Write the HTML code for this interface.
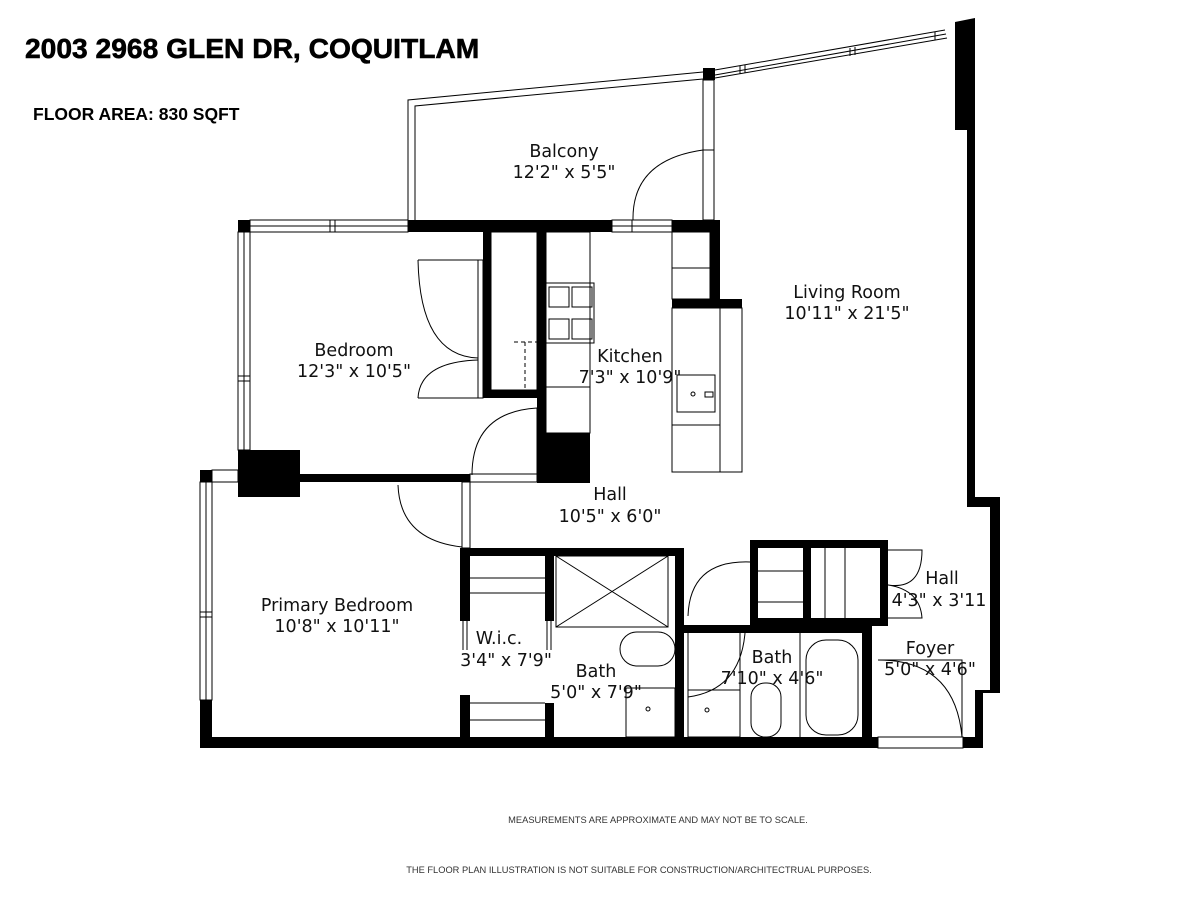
<!DOCTYPE html>
<html><head><meta charset="utf-8"><style>
body{margin:0;background:#fff;width:1200px;height:900px;overflow:hidden}
svg{display:block}
.t{font-family:"DejaVu Sans","Liberation Sans",sans-serif;font-size:17.5px;fill:#111}
.w{fill:#000}
.l{fill:none;stroke:#000;stroke-width:1}
</style></head><body>
<svg width="1200" height="900" viewBox="0 0 1200 900" xmlns="http://www.w3.org/2000/svg">
<text x="25" y="58" font-family="Liberation Sans,sans-serif" font-weight="bold" font-size="28.2" fill="#000" stroke="#000" stroke-width="0.6">2003 2968 GLEN DR, COQUITLAM</text>
<text x="33" y="120" font-family="Liberation Sans,sans-serif" font-weight="bold" font-size="17.5" fill="#000">FLOOR AREA: 830 SQFT</text>
<text x="658" y="823" text-anchor="middle" font-family="Liberation Sans,sans-serif" font-size="9.3" fill="#333">MEASUREMENTS ARE APPROXIMATE AND MAY NOT BE TO SCALE.</text>
<text x="639" y="873" text-anchor="middle" font-family="Liberation Sans,sans-serif" font-size="9.3" fill="#333">THE FLOOR PLAN ILLUSTRATION IS NOT SUITABLE FOR CONSTRUCTION/ARCHITECTRUAL PURPOSES.</text>

<path class="l" d="M408 220 V100 L703 72 M415 220 V106 L703 79"/>
<path class="l" d="M715 70 L945 30 M715 78 L947 38 M715 75 L946 34"/>
<path class="l" d="M740 66 V74 M745 65 V73 M850 48 V56 M855 47 V55 M935 32 V40"/>
<rect class="w" x="703" y="68" width="12" height="12"/>
<rect class="l" x="703" y="80" width="11" height="140"/>
<path class="l" d="M703 150 H714"/>
<path class="w" d="M955 22 L975 18 V130 H967 V497 H1000 V693 H983 V748 H975 V690 H990 V507 H967 V130 H955 Z"/>
<path class="w" d="M967 130 H975 V497 H967Z"/>
<rect class="w" x="238" y="220" width="12" height="12"/>
<rect class="l" x="250" y="220" width="158" height="12"/>
<path class="l" d="M330 220 V232 M335 220 V232 M250 226 H408"/>
<rect class="w" x="408" y="220" width="204" height="12"/>
<rect class="l" x="612" y="220" width="60" height="12"/>
<path class="l" d="M612 226 H672 M632 220 V232"/>
<rect class="w" x="672" y="220" width="48" height="12"/>
<rect class="w" x="710" y="220" width="10" height="88"/>
<rect class="w" x="672" y="299" width="70" height="9"/>
<rect class="l" x="238" y="232" width="12" height="218"/>
<path class="l" d="M244 232 V450 M238 376 H250 M238 381 H250"/>
<rect class="w" x="483" y="232" width="8" height="165"/>
<rect class="w" x="483" y="390" width="57" height="8"/>
<rect class="w" x="537" y="232" width="9" height="250"/>
<rect class="w" x="537" y="433" width="53" height="50"/>
<rect class="l" x="491" y="232" width="46" height="158"/>
<path class="l" d="M514 342 H537 V390 M525 342 V390" stroke-dasharray="4 3"/>
<rect class="l" x="478" y="260" width="5" height="138"/>
<path class="l" d="M418 260 H478 M418 260 Q420 356 478 358 M478 360 Q420 362 418 398 M418 398 H478"/>
<path class="l" d="M472 475 Q472 412 537 408 M537 408 V475"/>
<rect class="w" x="238" y="450" width="62" height="47"/>
<rect class="w" x="300" y="474" width="170" height="8"/>
<rect class="l" x="470" y="474" width="67" height="8"/>
<rect class="w" x="200" y="470" width="12" height="12"/>
<rect class="l" x="212" y="470" width="26" height="12"/>
<rect class="l" x="200" y="482" width="12" height="218"/>
<path class="l" d="M206 482 V700 M200 612 H212 M200 617 H212"/>
<rect class="w" x="200" y="700" width="12" height="48"/>
<rect class="w" x="200" y="737" width="678" height="11"/>
<rect class="w" x="963" y="737" width="20" height="11"/>
<rect class="l" x="878" y="737" width="85" height="11"/>
<rect class="l" x="546" y="232" width="44" height="201"/>
<rect class="l" x="546" y="283" width="48" height="60"/>
<g class="l"><rect x="549" y="287" width="20" height="20"/><rect x="572" y="287" width="20" height="20"/><rect x="549" y="319" width="20" height="20"/><rect x="572" y="319" width="20" height="20"/></g>
<path class="l" d="M546 387 H590"/>
<rect class="l" x="672" y="232" width="38" height="67"/>
<path class="l" d="M672 268 H710"/>
<rect class="l" x="672" y="308" width="70" height="164"/>
<path class="l" d="M720 308 V472 M672 425 H720"/>
<rect class="l" x="677" y="375" width="38" height="37"/>
<circle class="l" cx="693" cy="394" r="2"/>
<rect class="l" x="705" y="392" width="8" height="5"/>
<path class="l" d="M633 220 Q632 160 703 150"/>
<path class="l" d="M398 485 Q400 540 462 547"/>
<rect class="l" x="462" y="482" width="8" height="66"/>
<rect class="w" x="460" y="548" width="224" height="8"/>
<rect class="w" x="460" y="548" width="10" height="73"/>
<rect class="w" x="545" y="548" width="9" height="73"/>
<rect class="w" x="460" y="695" width="10" height="45"/>
<rect class="w" x="545" y="703" width="9" height="35"/>
<path class="l" d="M463 621 V650 M467 621 V650 M547 621 V650 M551 621 V650"/>
<path class="l" d="M470 578 H545 M470 593 H545 M470 703 H545 M470 720 H545"/>
<rect class="l" x="556" y="556" width="112" height="71"/>
<path class="l" d="M556 556 L668 627 M668 556 L556 627"/>
<rect class="w" x="675" y="548" width="9" height="190"/>
<rect class="l" x="620" y="632" width="55" height="34" rx="17"/>
<rect class="l" x="626" y="688" width="49" height="49"/>
<circle class="l" cx="648" cy="709" r="2"/>
<rect class="w" x="684" y="625" width="188" height="8"/>
<rect class="w" x="862" y="625" width="10" height="115"/>
<rect class="l" x="688" y="690" width="52" height="47"/>
<circle class="l" cx="707" cy="710" r="2"/>
<rect class="l" x="751" y="683" width="30" height="54" rx="14"/>
<rect class="l" x="806" y="640" width="52" height="95" rx="20"/>
<path class="l" d="M800 633 V737 M740 633 V737"/>
<path class="l" d="M688 633 V697 Q740 690 745 633"/>
<rect class="w" x="750" y="540" width="138" height="8"/>
<rect class="w" x="750" y="540" width="8" height="86"/>
<rect class="w" x="803" y="540" width="8" height="86"/>
<rect class="w" x="880" y="540" width="8" height="86"/>
<rect class="w" x="750" y="618" width="138" height="8"/>
<path class="l" d="M758 571 H803 M758 602 H803 M845 548 V618 M825 548 V618"/>
<path class="l" d="M688 616 Q690 560 750 562"/>
<path class="l" d="M888 550 H922 Q922 590 888 585 M888 618 H922 Q920 590 888 585"/>
<path class="l" d="M878 660 H962 V737 M878 660 Q955 660 962 737"/>
<text class="t" x="564" y="157" text-anchor="middle">Balcony</text>
<text class="t" x="564" y="178" text-anchor="middle">12'2" x 5'5"</text>
<text class="t" x="847" y="298" text-anchor="middle">Living Room</text>
<text class="t" x="847" y="319" text-anchor="middle">10'11" x 21'5"</text>
<text class="t" x="354" y="356" text-anchor="middle">Bedroom</text>
<text class="t" x="354" y="377" text-anchor="middle">12'3" x 10'5"</text>
<text class="t" x="630" y="362" text-anchor="middle">Kitchen</text>
<text class="t" x="630" y="383" text-anchor="middle">7'3" x 10'9"</text>
<text class="t" x="610" y="500" text-anchor="middle">Hall</text>
<text class="t" x="610" y="522" text-anchor="middle">10'5" x 6'0"</text>
<text class="t" x="337" y="611" text-anchor="middle">Primary Bedroom</text>
<text class="t" x="337" y="632" text-anchor="middle">10'8" x 10'11"</text>
<text class="t" x="499" y="644" text-anchor="middle">W.i.c.</text>
<text class="t" x="506" y="666" text-anchor="middle">3'4" x 7'9"</text>
<text class="t" x="596" y="677" text-anchor="middle">Bath</text>
<text class="t" x="596" y="698" text-anchor="middle">5'0" x 7'9"</text>
<text class="t" x="772" y="663" text-anchor="middle">Bath</text>
<text class="t" x="772" y="684" text-anchor="middle">7'10" x 4'6"</text>
<text class="t" x="942" y="584" text-anchor="middle">Hall</text>
<text class="t" x="939" y="606" text-anchor="middle">4'3" x 3'11</text>
<text class="t" x="930" y="654" text-anchor="middle">Foyer</text>
<text class="t" x="930" y="675" text-anchor="middle">5'0" x 4'6"</text>
</svg>
</body></html>
